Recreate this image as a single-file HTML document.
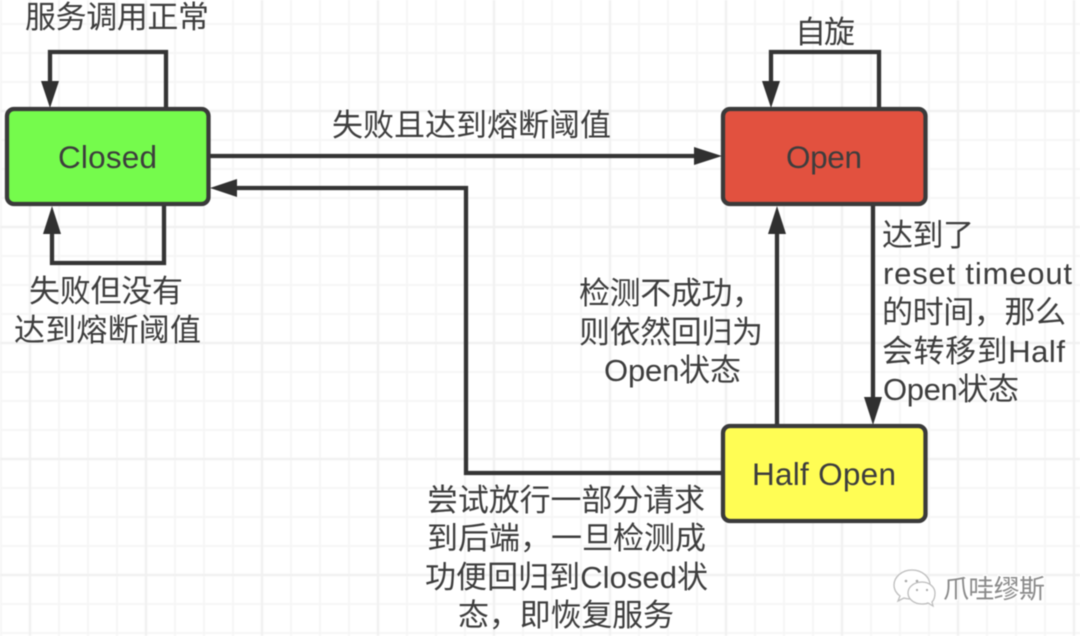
<!DOCTYPE html>
<html><head><meta charset="utf-8">
<style>
html,body{margin:0;padding:0;background:#fff;width:1080px;height:636px;overflow:hidden}
svg{display:block;filter:blur(0.5px)}
text{font-family:"Liberation Sans","Noto Sans CJK SC",sans-serif;fill:#3d3d3d;font-size:31px}
.n{font-size:31.5px}
.w{font-size:26px;fill:#8a8a8a}
</style></head><body>
<svg width="1080" height="636" viewBox="0 0 1080 636" xmlns="http://www.w3.org/2000/svg">
<rect width="1080" height="636" fill="#fff"/>
<g stroke="#f6f6f6" stroke-width="2">
<path d="M1 0V636M59 0V636M88 0V636M117 0V636M175 0V636M204 0V636M233 0V636M291 0V636M320 0V636M349 0V636M407 0V636M436 0V636M465 0V636M523 0V636M552 0V636M581 0V636M639 0V636M668 0V636M697 0V636M755 0V636M784 0V636M813 0V636M871 0V636M900 0V636M929 0V636M987 0V636M1016 0V636M1045 0V636"/>
<path d="M0 24H1080M0 53H1080M0 82H1080M0 140H1080M0 169H1080M0 198H1080M0 256H1080M0 285H1080M0 314H1080M0 372H1080M0 401H1080M0 430H1080M0 488H1080M0 517H1080M0 546H1080M0 604H1080M0 633H1080"/>
</g>
<g stroke="#f1f1f1" stroke-width="2.5">
<path d="M30 0V636M146 0V636M262 0V636M378 0V636M494 0V636M610 0V636M726 0V636M842 0V636M958 0V636M1074 0V636"/>
<path d="M0 111H1080M0 227H1080M0 343H1080M0 459H1080M0 575H1080"/>
</g>
<g fill="none" stroke="#343434" stroke-width="4.300">
<path d="M166 108V52H50V84"/>
<path d="M164 205V263H52V231"/>
<path d="M879 108V52H771V84"/>
<path d="M210 156H697"/>
<path d="M722 473H466V188H234"/>
<path d="M777 425V231"/>
<path d="M873 205V400"/>
</g>
<g fill="#303030">
<path d="M50 108L41 81H59Z"/>
<path d="M52 206L43 234H61Z"/>
<path d="M771 108L762 81H780Z"/>
<path d="M722 156L694 147V165Z"/>
<path d="M210 188L237 179V197Z"/>
<path d="M777 206L768 234H786Z"/>
<path d="M873 425L864 397H882Z"/>
</g>
<g stroke="#3a3a3a" stroke-width="4.300">
<rect x="7" y="109" width="201.500" height="95" rx="7" fill="#75fb4c"/>
<rect x="723" y="109" width="202.500" height="95" rx="7" fill="#e2513f"/>
<rect x="723" y="426" width="202.500" height="95" rx="7" fill="#fffd54"/>
</g>
<text class="n" x="58" y="168" textLength="99">Closed</text>
<text class="n" x="786" y="168" textLength="76">Open</text>
<text class="n" x="752" y="485" textLength="144">Half Open</text>

<text x="25" y="28" textLength="184">服务调用正常</text>
<text x="795" y="43" textLength="60">自旋</text>
<text x="332" y="136" textLength="279">失败且达到熔断阈值</text>
<text x="29" y="302" textLength="154">失败但没有</text>
<text x="14" y="341" textLength="187">达到熔断阈值</text>

<text x="882" y="246" textLength="92">达到了</text>
<text x="883" y="284" textLength="189">reset timeout</text>
<text x="882" y="323" textLength="184">的时间，那么</text>
<text x="882" y="362" textLength="183">会转移到Half</text>
<text x="883" y="400" textLength="136">Open状态</text>

<text x="579" y="304" textLength="184">检测不成功，</text>
<text x="579" y="343" textLength="184">则依然回归为</text>
<text x="604" y="381" textLength="137">Open状态</text>

<text x="427" y="511" textLength="278">尝试放行一部分请求</text>
<text x="427" y="549" textLength="279">到后端，一旦检测成</text>
<text x="425" y="588" textLength="283">功便回归到Closed状</text>
<text x="458" y="626" textLength="216">态，即恢复服务</text>

<g stroke="#bdbdbd" stroke-width="1.300" fill="#fff">
<path d="M912 570c-10 0-18 7-18 15 0 5 3 9 6 11l-2 5 6-3c3 1 5 1 8 1 10 0 18-6 18-14s-8-15-18-15z"/>
<path d="M922 582c-8 0-14 5-14 11s6 11 14 11c2 0 4 0 6-1l5 3-1-4c2-2 3-5 3-9 0-6-6-11-13-11z"/>
</g>
<g fill="#a8a8a8"><circle cx="906" cy="581" r="1.300"/><circle cx="917" cy="581" r="1.300"/><circle cx="917" cy="590" r="1.100"/><circle cx="927" cy="590" r="1.100"/></g>
<text class="w" x="943" y="598" textLength="102" style="stroke:#fff;stroke-width:2.5px;paint-order:stroke">爪哇缪斯</text>
</svg>
</body></html>
